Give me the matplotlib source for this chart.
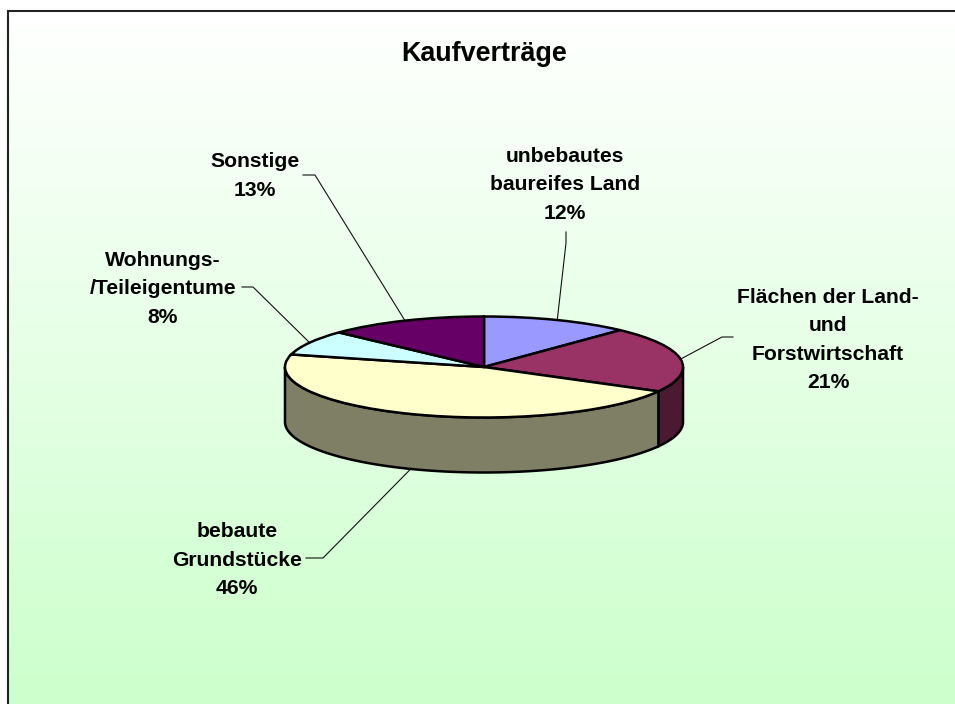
import numpy as np
import matplotlib
matplotlib.use('Agg')
import matplotlib.pyplot as plt
from matplotlib.colors import LinearSegmentedColormap

plt.rcParams['font.family'] = ['Liberation Sans', 'DejaVu Sans']

W, H = 955, 704

# slices, clockwise from 12 o'clock
labels = ['unbebautes\nbaureifes Land', 'Flächen der Land-\nund\nForstwirtschaft',
          'bebaute\nGrundstücke', 'Wohnungs-\n/Teileigentume', 'Sonstige']
values = [12, 21, 46, 8, 13]
top_colors = ['#9999FF', '#993366', '#FFFFCC', '#CCFFFF', '#660066']
side_colors = ['#4C4C7F', '#4C1933', '#7F7F66', '#667F7F', '#330033']

# label centres and leader starts, in pixels of the picture
label_pos = [(565, 185), (828, 340), (237, 560), (163, 289), (255, 176)]
leader_start = [[(566, 232), (566, 243)], [(733, 337), (722, 337)],
                [(306, 558), (323, 558)], [(242, 287), (253, 287)],
                [(303, 175), (315, 175)]]

cx, cy, rx, ry, depth = 484, 367, 199, 50.5, 55

fig = plt.figure(figsize=(W / 100, H / 100), dpi=100, facecolor='white')

# background: pixel coordinates, y pointing down
bg = fig.add_axes([0, 0, 1, 1])
bg.set_xlim(0, W)
bg.set_ylim(H, 0)
bg.axis('off')
grad = np.linspace(0, 1, 256).reshape(-1, 1)
cmap = LinearSegmentedColormap.from_list('bg', ['#FFFFFF', '#CCFFCC'])
bg.imshow(grad, cmap=cmap, extent=(8, W, H, 11), aspect='auto', zorder=0)
bg.set_xlim(0, W)
bg.set_ylim(H, 0)
bg.plot([8, 8, W], [H, 11, 11], color='#222222', lw=1.5, solid_joinstyle='miter', zorder=1)

# pie axes: unit circle stretched to the ellipse of the top face
ax = fig.add_axes([(cx - rx) / W, (H - cy - ry) / H, 2 * rx / W, 2 * ry / H])
ax.patch.set_alpha(0)
ax.pie(values, colors=top_colors, startangle=90, counterclock=False,
       wedgeprops=dict(edgecolor='black', linewidth=1.8), radius=1)
ax.set_aspect('auto')
ax.set_xlim(-1, 1)
ax.set_ylim(-1, 1)
d = depth / ry

# side wall of the pie, only the front half is visible
edges = np.cumsum([0] + values) / sum(values) * 2 * np.pi
for i in range(len(values)):
    a0, a1 = max(edges[i], np.pi / 2), min(edges[i + 1], 3 * np.pi / 2)
    if a1 <= a0:
        continue
    t = np.linspace(a0, a1, 120)
    x, y = np.sin(t), np.cos(t)
    ax.fill(np.r_[x, x[::-1]], np.r_[y, y[::-1] - d], facecolor=side_colors[i],
            edgecolor='black', lw=1.8, clip_on=False, zorder=0.5)

# leaders run to the middle of each slice
for i, v in enumerate(values):
    mid = (edges[i] + edges[i + 1]) / 2
    ex = cx + rx * np.sin(mid)
    ey = cy - ry * np.cos(mid)
    if np.cos(mid) < 0:
        ey += depth
    pts = leader_start[i] + [(ex, ey)]
    bg.plot([p[0] for p in pts], [p[1] for p in pts], color='#111111', lw=0.8, zorder=2)
    bg.text(label_pos[i][0], label_pos[i][1], f'{labels[i]}\n{v}%', ha='center', va='center',
            multialignment='center', fontsize=15.2, fontweight='bold', linespacing=1.63,
            color='black', zorder=3)

bg.text(484, 54, 'Kaufverträge', ha='center', va='center', fontsize=19.4,
        fontweight='bold', color='black', zorder=3)

fig.savefig('out.png', dpi=100)
